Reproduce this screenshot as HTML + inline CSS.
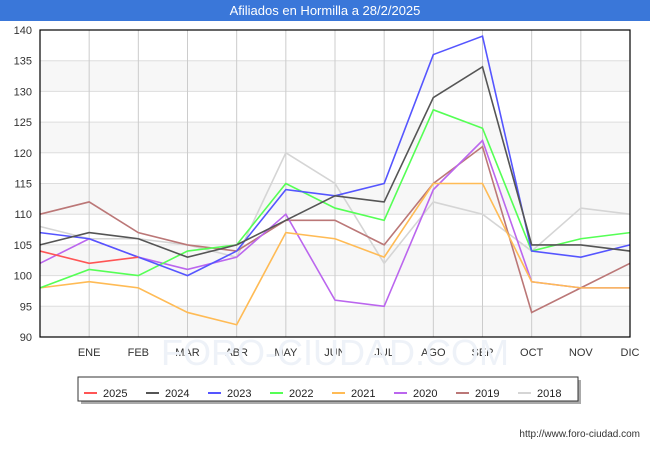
<!DOCTYPE html>
<html><head><meta charset="utf-8"><style>
body{margin:0;width:650px;height:450px;background:#fff;font-family:"Liberation Sans",sans-serif;overflow:hidden}
</style></head><body>
<svg width="650" height="450" xmlns="http://www.w3.org/2000/svg">
<rect x="0" y="0" width="650" height="21" fill="#3a77d9"/>
<text x="325" y="15" text-anchor="middle" fill="#fff" font-size="13">Afiliados en Hormilla a 28/2/2025</text>
<g id="plot"></g>
<g id="legend"></g>
<text x="640" y="437" text-anchor="end" font-size="10" fill="#333">http://www.foro-ciudad.com</text>
</svg>
<script>
const categories=["","ENE","FEB","MAR","ABR","MAY","JUN","JUL","AGO","SEP","OCT","NOV","DIC"];
const yTicks=[90,95,100,105,110,115,120,125,130,135,140];
const seriesNames=["2025","2024","2023","2022","2021","2020","2019","2018"];
const seriesColors=["#ff5555","#555555","#5555ff","#55ff55","#ffbb55","#bb66ee","#bb7777","#d5d5d5"];
const s2025=[104,102,103];
const s2024=[105,107,106,103,105,109,113,112,129,134,105,105,104];
const s2023=[107,106,103,100,104,114,113,115,136,139,104,103,105];
const s2022=[98,101,100,104,105,115,111,109,127,124,104,106,107];
const s2021=[98,99,98,94,92,107,106,103,115,115,99,98,98];
const s2020=[102,106,103,101,103,110,96,95,114,122,99,98,98];
const s2019=[110,112,107,105,104,109,109,105,115,121,94,98,102];
const s2018=[108,106,106,105,103,120,115,102,112,110,104,111,110];
const seriesData=[s2025,s2024,s2023,s2022,s2021,s2020,s2019,s2018];
const NS="http://www.w3.org/2000/svg";
const X0=40,X1=630,Y0=337,Y1=30,yMin=90,yMax=140;
const xs=i=>X0+i*(X1-X0)/(categories.length-1);
const ys=v=>Y0-(v-yMin)*(Y0-Y1)/(yMax-yMin);
function mk(tag,attrs,parent){const e=document.createElementNS(NS,tag);for(const k in attrs)e.setAttribute(k,attrs[k]);parent.appendChild(e);return e;}
const plot=document.getElementById('plot');
for(let i=0;i<yTicks.length-1;i++){
  if(i%2===0){const r=mk('rect',{x:X0,y:ys(yTicks[i+1]),width:X1-X0,height:ys(yTicks[i])-ys(yTicks[i+1]),fill:'#f7f7f7'},plot);
  
  }
}
yTicks.forEach(t=>{
  const l=mk('line',{x1:X0,x2:X1,y1:ys(t),y2:ys(t),stroke:'#dddddd','stroke-width':1},plot);
  
  
  const tx=mk('text',{x:X0-8,y:ys(t)+4,'text-anchor':'end','font-size':11,fill:'#333'},plot);
  tx.textContent=t;
  
  
});
categories.forEach((c,i)=>{
  if(i>0){const l=mk('line',{x1:xs(i),x2:xs(i),y1:Y1,y2:Y0,stroke:'#cccccc','stroke-width':1},plot);
  
  }
  const tx=mk('text',{x:xs(i),y:Y0+19,'text-anchor':'middle','font-size':11,fill:'#333'},plot);
  tx.textContent=c;
  
  
});
const wm=mk('text',{x:335,y:365,'text-anchor':'middle','font-size':36,fill:'#eef2f8'},plot);
wm.textContent='FORO-CIUDAD.COM';


for(let s=seriesData.length-1;s>=0;s--){
  const pts=seriesData[s].map((v,i)=>xs(i)+','+ys(v)).join(' ');
  const p=mk('polyline',{points:pts,fill:'none',stroke:seriesColors[s],'stroke-width':1.6},plot);
  
  
}
const fr=mk('rect',{x:X0,y:Y1,width:X1-X0,height:Y0-Y1,fill:'none',stroke:'#000','stroke-width':1.2},plot);


const lg=document.getElementById('legend');
const sh=mk('rect',{x:81,y:380,width:500,height:24,fill:'#aaa'},lg);


const lb=mk('rect',{x:78,y:377,width:500,height:24,fill:'#fff',stroke:'#333','stroke-width':1},lg);


seriesNames.forEach((n,i)=>{
  const x=84+i*62;
  const g=mk('g',{},lg);
  
  
  mk('line',{x1:x,x2:x+13,y1:393,y2:393,stroke:seriesColors[i],'stroke-width':2},g);
  const t=mk('text',{x:x+19,y:397,'font-size':11,fill:'#222'},g);
  t.textContent=n;
});
</script>
</body></html>
